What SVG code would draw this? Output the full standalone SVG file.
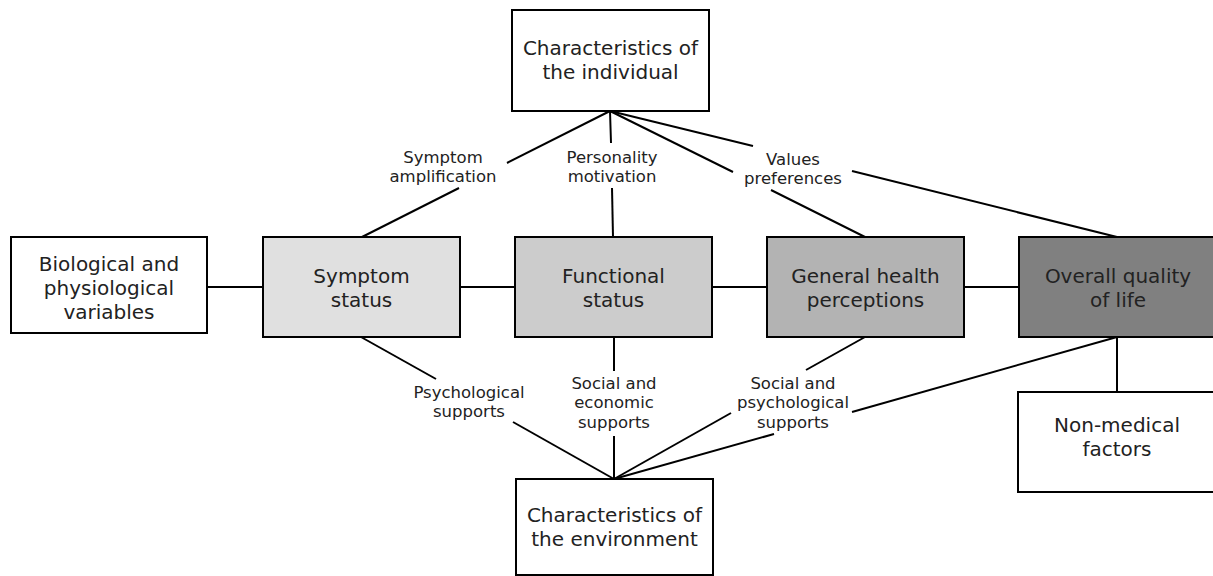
<svg xmlns="http://www.w3.org/2000/svg" width="1213" height="576" viewBox="0 0 1213 576">
  <style>
    .box { stroke: #000; stroke-width: 2; }
    .plain { fill: #fff; }
    .s1 { fill: #e0e0e0; }
    .s2 { fill: #cccccc; }
    .s3 { fill: #b3b3b3; }
    .s4 { fill: #808080; }
    .t { font-family: "DejaVu Sans", "Liberation Sans", sans-serif; font-size: 20px; fill: #222; text-anchor: middle; }
    .lbl { font-family: "DejaVu Sans", "Liberation Sans", sans-serif; font-size: 16.5px; fill: #222; text-anchor: middle; }
    .c { stroke: #000; stroke-width: 2; fill: none; stroke-linecap: butt; }
  </style>
  <rect width="1213" height="576" fill="#fff"/>

  <!-- connectors -->
  <g id="connectors" class="c">
    <!-- chain of main boxes -->
    <line x1="207" y1="287" x2="263" y2="287"/>
    <line x1="460" y1="287" x2="515" y2="287"/>
    <line x1="712" y1="287" x2="767" y2="287"/>
    <line x1="964" y1="287" x2="1019" y2="287"/>
    <line x1="1117" y1="337" x2="1117" y2="392"/>
    <!-- from characteristics of the individual -->
    <line x1="610" y1="111" x2="507" y2="163"/>
    <line x1="459" y1="188" x2="362" y2="237"/>
    <line x1="610" y1="111" x2="611" y2="143"/>
    <line x1="612" y1="188" x2="613" y2="237"/>
    <line x1="610" y1="111" x2="733" y2="172"/>
    <line x1="771" y1="190" x2="865" y2="237"/>
    <line x1="610" y1="111" x2="753" y2="146"/>
    <line x1="852" y1="171" x2="1117" y2="237"/>
    <!-- to characteristics of the environment -->
    <line x1="361" y1="337" x2="436" y2="379"/>
    <line x1="513" y1="422" x2="614" y2="479"/>
    <line x1="614" y1="337" x2="614" y2="371"/>
    <line x1="614" y1="436" x2="614" y2="479"/>
    <line x1="865" y1="337" x2="806" y2="370"/>
    <line x1="731" y1="413" x2="614" y2="479"/>
    <line x1="1117" y1="337" x2="852" y2="412"/>
    <line x1="774" y1="434" x2="614" y2="479"/>
  </g>

  <!-- connector labels -->
  <g id="labels">
    <text class="lbl" x="443" y="163">Symptom</text>
    <text class="lbl" x="443" y="182">amplification</text>
    <text class="lbl" x="612" y="163">Personality</text>
    <text class="lbl" x="612" y="182">motivation</text>
    <text class="lbl" x="793" y="165">Values</text>
    <text class="lbl" x="793" y="184">preferences</text>
    <text class="lbl" x="469" y="398">Psychological</text>
    <text class="lbl" x="469" y="417">supports</text>
    <text class="lbl" x="614" y="389">Social and</text>
    <text class="lbl" x="614" y="408">economic</text>
    <text class="lbl" x="614" y="428">supports</text>
    <text class="lbl" x="793" y="389">Social and</text>
    <text class="lbl" x="793" y="408">psychological</text>
    <text class="lbl" x="793" y="428">supports</text>
  </g>

  <g id="individual">
    <rect class="box plain" x="512" y="10" width="197" height="101"/>
    <text class="t" x="610.5" y="55">Characteristics of</text>
    <text class="t" x="610.5" y="79">the individual</text>
  </g>

  <g id="biological">
    <rect class="box plain" x="11" y="237" width="196" height="96"/>
    <text class="t" x="109" y="271">Biological and</text>
    <text class="t" x="109" y="295">physiological</text>
    <text class="t" x="109" y="319">variables</text>
  </g>

  <g id="symptom">
    <rect class="box s1" x="263" y="237" width="197" height="100"/>
    <text class="t" x="361.5" y="283">Symptom</text>
    <text class="t" x="361.5" y="307">status</text>
  </g>

  <g id="functional">
    <rect class="box s2" x="515" y="237" width="197" height="100"/>
    <text class="t" x="613.5" y="283">Functional</text>
    <text class="t" x="613.5" y="307">status</text>
  </g>

  <g id="general">
    <rect class="box s3" x="767" y="237" width="197" height="100"/>
    <text class="t" x="865.5" y="283">General health</text>
    <text class="t" x="865.5" y="307">perceptions</text>
  </g>

  <g id="overall">
    <rect class="box s4" x="1019" y="237" width="197" height="100"/>
    <text class="t" x="1118" y="283">Overall quality</text>
    <text class="t" x="1118" y="307">of life</text>
  </g>

  <g id="nonmedical">
    <rect class="box plain" x="1018" y="392" width="198" height="100"/>
    <text class="t" x="1117" y="432">Non-medical</text>
    <text class="t" x="1117" y="456">factors</text>
  </g>

  <g id="environment">
    <rect class="box plain" x="516" y="479" width="197" height="96"/>
    <text class="t" x="614.5" y="522">Characteristics of</text>
    <text class="t" x="614.5" y="546">the environment</text>
  </g>
</svg>
